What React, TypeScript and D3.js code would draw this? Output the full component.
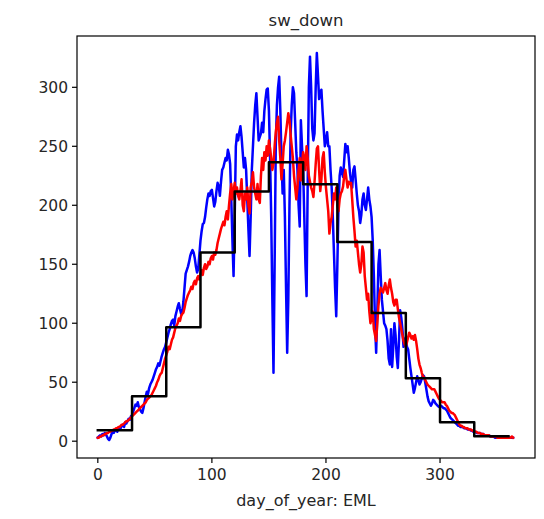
import React from "react";
import * as d3 from "d3";

// Daily observed values (blue), day 0..364
const obsValues: number[] = [
  3, 4, 5, 4, 6, 5, 7, 6, 4, 2,
  1, 3, 6, 8, 7, 9, 10, 8, 11, 12,
  11, 13, 14, 12, 16, 15, 17, 19, 18, 21,
  22, 25, 28, 31, 30, 33, 29, 27, 25, 24,
  28, 33, 38, 42, 40, 45, 48, 50, 52, 55,
  58, 61, 63, 66, 64, 68, 72, 75, 78, 80,
  84, 88, 92, 95, 99, 102, 103, 98, 106, 110,
  114, 117, 112, 108, 109, 118, 130, 142, 145, 148,
  152, 157, 160, 162, 160, 155, 148, 143, 146, 158,
  170, 178, 184, 185, 190, 198, 205, 210, 208, 212,
  213, 206, 199, 203, 212, 219, 216, 208, 220, 230,
  232, 236, 240, 238, 247, 243, 235, 205, 170, 140,
  190, 250, 260, 255, 262, 267, 258, 245, 232, 240,
  230, 205, 180, 157, 190, 230, 250, 270, 285, 295,
  275, 255, 258, 261, 270, 262, 280, 290, 298, 299,
  280, 240, 190, 120, 58, 150, 250, 285, 300, 309,
  280, 240, 210, 230, 190, 130, 75, 120, 200, 260,
  285, 300, 295, 270, 245, 230, 200, 182, 272, 250,
  230, 190, 150, 123, 220, 300, 326, 300, 265, 255,
  261, 300, 329, 310, 290, 295, 298, 280, 265, 250,
  255, 262, 250, 250, 230, 215, 190, 160, 130, 106,
  150, 200, 225, 232, 228, 224, 238, 252, 245, 250,
  240, 228, 220, 215, 230, 233, 222, 210, 200, 195,
  185, 192, 205, 210, 200, 196, 205, 215, 205, 199,
  190, 170, 140, 100, 75, 110, 150, 162, 140, 120,
  110, 100, 98, 95, 85, 70, 65, 95, 63, 80,
  100, 90, 72, 62, 85, 111, 105, 95, 80, 85,
  88, 80, 78, 70, 62, 55, 48, 41, 45, 50,
  55, 52, 48, 50, 53, 56, 55, 50, 44, 38,
  34, 32, 30, 32, 35, 34, 32, 31, 30, 29,
  30, 30, 29, 28, 28, 27, 26, 24, 22, 20,
  19, 18, 17, 16, 15, 14, 13, 13, 12, 12,
  12, 11, 11, 11, 10, 10, 10, 9, 9, 8,
  8, 8, 7, 7, 7, 7, 6, 6, 6, 5,
  5, 5, 5, 5, 4, 4, 4, 4, 3, 3,
  3, 3, 3, 3, 3, 3, 3, 3, 3, 3,
  3, 3, 3, 3, 3,
];

// Daily model values (red), day 0..364
const modelValues: number[] = [
  3, 3, 4, 4, 5, 5, 6, 6, 7, 7,
  8, 8, 9, 9, 10, 10, 11, 11, 12, 12,
  13, 14, 14, 15, 16, 17, 17, 18, 19, 20,
  21, 22, 23, 24, 25, 26, 27, 28, 29, 30,
  31, 32, 33, 35, 36, 37, 38, 39, 41, 43,
  45, 47, 50, 52, 55, 57, 58, 62, 66, 70,
  73, 76, 80, 78, 82, 86, 88, 92, 96, 98,
  100, 104, 102, 106, 108, 109, 113, 118, 121, 124,
  126, 128, 131, 129, 134, 136, 133, 138, 140, 137,
  142, 145, 141, 147, 150, 146, 148, 152, 150, 155,
  157, 154, 160, 158, 162, 168, 172, 176, 180, 183,
  186, 183, 190, 195, 188, 200, 210, 218, 205, 212,
  219, 210, 215, 208, 205, 212, 222, 200, 195, 210,
  205, 215, 200, 193, 215, 220, 228, 215, 210, 205,
  218, 205, 202, 225, 240, 230, 245, 238, 250, 242,
  255, 248, 240, 230, 235, 250, 262, 270, 275, 255,
  240, 222, 235, 250, 255, 262, 270, 278, 272, 260,
  250, 240, 225, 215, 205, 215, 230, 240, 221, 235,
  245, 240, 230, 250, 240, 225, 220, 215, 212, 207,
  220, 235, 248, 250, 230, 212, 222, 240, 245, 228,
  215, 205, 195, 176, 185, 190, 200, 210, 205, 215,
  200, 195, 205, 210, 212, 216, 225, 230, 222, 215,
  220, 218, 219, 205, 190, 178, 165, 170, 160, 150,
  143, 150, 165, 160, 140, 130, 120, 125, 110, 100,
  105, 110, 95, 90, 85, 100, 115, 125, 130, 128,
  126, 130, 134, 128, 125, 132, 137, 130, 125, 118,
  115, 120, 120, 112, 105, 100, 95, 90, 85, 82,
  80, 84, 88, 92, 90, 87, 89, 86, 90, 85,
  78, 70, 65, 62, 58, 55, 54, 52, 50, 48,
  47, 46, 45, 44, 44, 44, 42, 40, 38, 36,
  35, 34, 33, 33, 33, 31, 30, 28, 26, 25,
  24, 24, 23, 22, 20, 18, 16, 14, 13, 13,
  12, 12, 11, 11, 11, 10, 10, 10, 9, 9,
  8, 8, 8, 7, 7, 7, 6, 6, 6, 5,
  5, 5, 5, 5, 4, 4, 4, 4, 4, 4,
  3, 3, 3, 3, 3, 3, 3, 3, 3, 3,
  3, 3, 3, 4, 3,
];

// Monthly means (black step)
const monthStarts: number[] = [0, 30, 60, 90, 120, 150, 180, 210, 240, 270, 300, 330, 360];
const monthlyMeans: number[] = [9.3, 38, 96.5, 160, 211.6, 236.5, 217.9, 168.8, 108.7, 53.3, 16.1, 4.2, 4.2];

const xTicks: number[] = [0, 100, 200, 300];
const yTicks: number[] = [0, 50, 100, 150, 200, 250, 300];

const title = "sw_down";
const xLabel = "day_of_year: EML";

export default function App() {
  const W = 544;
  const H = 519;
  const left = 77;
  const right = 535;
  const top = 36;
  const bottom = 458;

  const x = d3.scaleLinear().domain([-18.25, 383.25]).range([left, right]);
  const y = d3.scaleLinear().domain([-14.25, 343.5]).range([bottom, top]);

  const line = d3
    .line<number>()
    .x((_, i) => x(i))
    .y((d) => y(d));

  const stepLine = d3
    .line<number>()
    .x((_, i) => x(monthStarts[i]))
    .y((d) => y(d))
    .curve(d3.curveStepAfter);

  const font = "DejaVu Sans, sans-serif";
  const tickLen = 5;

  return (
    <svg
      width={W}
      height={H}
      style={{ position: "absolute", left: 0, top: 0, background: "#fff" }}
    >
      <rect x={0} y={0} width={W} height={H} fill="#fff" />
      <defs>
        <clipPath id="plotclip">
          <rect x={left} y={top} width={right - left} height={bottom - top} />
        </clipPath>
      </defs>
      <g clipPath="url(#plotclip)" fill="none" strokeLinejoin="round" strokeLinecap="square">
        <path d={line(obsValues) || ""} stroke="#0000ff" strokeWidth={2.5} />
        <path d={line(modelValues) || ""} stroke="#ff0000" strokeWidth={2.5} />
        <path d={stepLine(monthlyMeans) || ""} stroke="#000000" strokeWidth={2.5} />
      </g>
      <rect
        x={left}
        y={top}
        width={right - left}
        height={bottom - top}
        fill="none"
        stroke="#000"
        strokeWidth={1.2}
      />
      {xTicks.map((t) => (
        <g key={"x" + t}>
          <line x1={x(t)} x2={x(t)} y1={bottom} y2={bottom + tickLen} stroke="#000" strokeWidth={1.2} />
          <text
            x={x(t)}
            y={bottom + tickLen + 17}
            textAnchor="middle"
            fontFamily={font}
            fontSize={15.5}
            fill="#262626"
          >
            {t}
          </text>
        </g>
      ))}
      {yTicks.map((t) => (
        <g key={"y" + t}>
          <line x1={left - tickLen} x2={left} y1={y(t)} y2={y(t)} stroke="#000" strokeWidth={1.2} />
          <text
            x={left - tickLen - 4}
            y={y(t)}
            dy="0.35em"
            textAnchor="end"
            fontFamily={font}
            fontSize={15.5}
            fill="#262626"
          >
            {t}
          </text>
        </g>
      ))}
      <text
        x={(left + right) / 2}
        y={26}
        textAnchor="middle"
        fontFamily={font}
        fontSize={16.5}
        fill="#262626"
      >
        {title}
      </text>
      <text
        x={(left + right) / 2}
        y={506}
        textAnchor="middle"
        fontFamily={font}
        fontSize={16}
        fill="#262626"
      >
        {xLabel}
      </text>
    </svg>
  );
}
